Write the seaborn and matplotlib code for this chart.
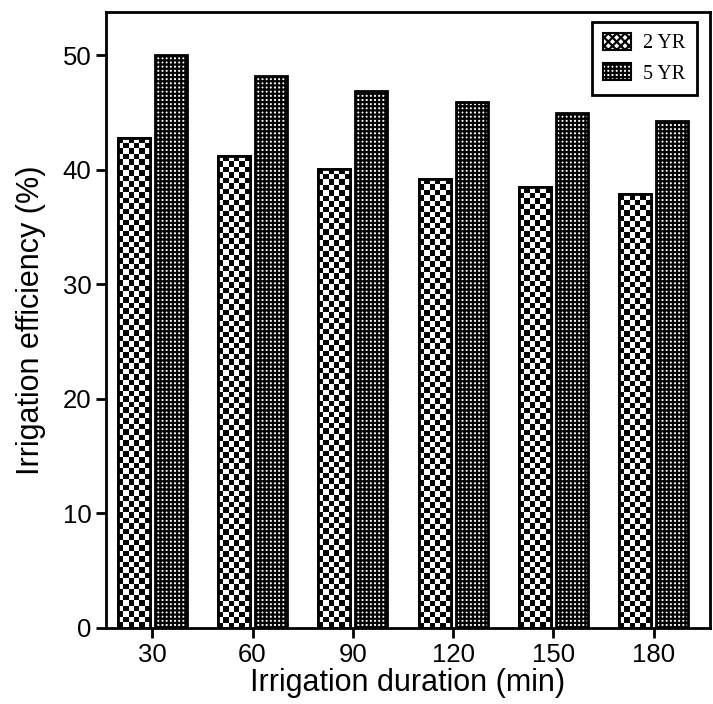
import numpy as np
import pandas as pd
import matplotlib
matplotlib.use("Agg")
import matplotlib.pyplot as plt
import seaborn as sns

durations = [30, 60, 90, 120, 150, 180]
eff_2yr = [42.8, 41.2, 40.1, 39.2, 38.5, 37.9]
eff_5yr = [50.0, 48.2, 46.9, 45.9, 45.0, 44.3]
series_names = ["2 YR", "5 YR"]

df = pd.DataFrame({
    "duration": durations * 2,
    "efficiency": eff_2yr + eff_5yr,
    "period": [series_names[0]] * 6 + [series_names[1]] * 6,
})

sns.set_style("ticks")
plt.rcParams['font.family'] = ['Liberation Sans', 'DejaVu Sans']
plt.rcParams['hatch.linewidth'] = 1.6

fig = plt.figure(figsize=(7.13, 7.04), dpi=100)
ax = fig.add_axes([0.1487, 0.108, 0.8471, 0.875])

sns.barplot(data=df, x="duration", y="efficiency", hue="period",
            palette=["white", "white"], edgecolor="black", linewidth=2.0,
            width=0.74, gap=0.14, ax=ax)

ax.set_ylim(0, 53.8)
ax.set_xlim(-0.46, 5.56)
ax.set_yticks([0, 10, 20, 30, 40, 50])

# textures: dense grid for 5 YR, checkerboard for 2 YR
hatches = ["xxxx", "++++"]
for cont, h in zip(ax.containers, hatches):
    for bar in cont:
        bar.set_hatch(h)

fig.canvas.draw()
cell = 5.5  # px
for bar in ax.containers[0]:
    x0, y0 = bar.get_x(), bar.get_y()
    x1, y1 = x0 + bar.get_width(), y0 + bar.get_height()
    (px0, py0), (px1, py1) = ax.transData.transform([(x0, y0), (x1, y1)])
    nc = max(1, int(round((px1 - px0) / cell)))
    nr = max(1, int(round((py1 - py0) / cell)))
    img = (np.add.outer(np.arange(nr), np.arange(nc)) % 2).astype(float)
    im = ax.imshow(img, cmap="gray", interpolation="nearest", aspect="auto",
                   extent=(x0, x1, y0, y1), origin="lower", zorder=bar.get_zorder() + 0.1)
    im.set_clip_path(bar)
    outline = plt.Rectangle((x0, y0), x1 - x0, y1 - y0, fill=False,
                            edgecolor="black", linewidth=2.0,
                            zorder=bar.get_zorder() + 0.2)
    ax.add_patch(outline)
ax.set_xlim(-0.46, 5.56)
ax.set_ylim(0, 53.8)

for side in ["left", "bottom", "top", "right"]:
    ax.spines[side].set_visible(True)
    ax.spines[side].set_linewidth(2.0)
    ax.spines[side].set_color("black")

ax.tick_params(axis="both", direction="out", length=7, width=2,
               labelsize=18.5, color="black", labelcolor="black")
ax.set_xlabel("Irrigation duration (min)", fontsize=22, labelpad=1, color="black")
ax.set_ylabel("Irrigation efficiency (%)", fontsize=22, labelpad=12, color="black")

leg = ax.legend(loc="upper right", bbox_to_anchor=(0.978, 0.984),
                borderaxespad=0,
                prop={"family": "Liberation Serif", "size": 14.5},
                fancybox=False, framealpha=1, edgecolor="black",
                handlelength=1.4, handleheight=0.9, handletextpad=0.6,
                borderpad=0.55, labelspacing=0.5)
leg.get_frame().set_linewidth(2)
for handle, h in zip(leg.legend_handles, hatches):
    handle.set_hatch(h)
    handle.set_facecolor("white")
    handle.set_edgecolor("black")
    handle.set_linewidth(1.5)
for t in leg.get_texts():
    t.set_color("black")

fig.savefig("out.png", dpi=100)
